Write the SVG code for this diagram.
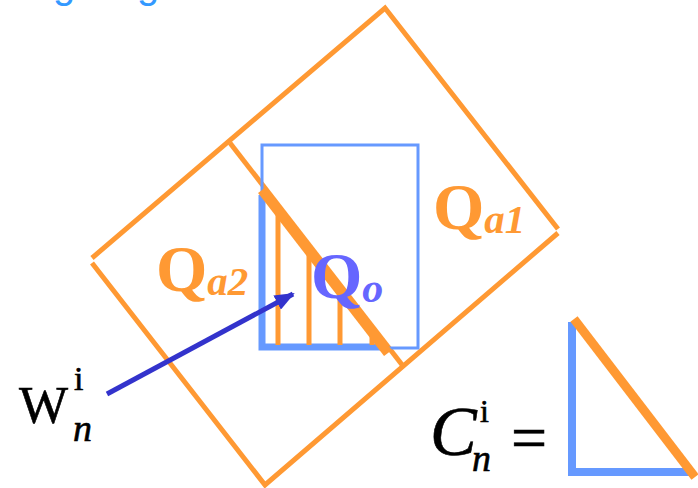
<svg xmlns="http://www.w3.org/2000/svg" width="698" height="488" viewBox="0 0 698 488">
<defs>
<style>
.or{stroke:#ff9933;fill:none;stroke-width:5}
.bl{stroke:#6699ff;fill:none}
</style>
<marker id="ah" markerUnits="userSpaceOnUse" markerWidth="20" markerHeight="16" refX="18" refY="8" orient="auto">
<path d="M0,0 L20,8 L0,16 Z" fill="#3333cc"/>
</marker>
</defs>
<rect width="698" height="488" fill="#ffffff"/>
<g id="title" font-family="'Liberation Sans', Arial, sans-serif" font-size="40" fill="#3399ff">
<text x="53" y="-2">g</text>
<text x="137" y="-2">g</text>
</g>
<g id="Qa1">
<path class="or" d="M92,258 L385,8 L558,229"/>
<path class="or" d="M558,233 L265,485 L92,263"/>
<text x="433" y="229" font-family="'Liberation Serif', 'Times New Roman', serif" font-weight="bold" font-size="66" fill="#ff9933">Q<tspan font-style="italic" font-size="41" dy="4">a1</tspan></text>
</g>
<g id="Qa2">
<line class="or" x1="230" y1="143" x2="403" y2="366"/>
<text x="156" y="291" font-family="'Liberation Serif', 'Times New Roman', serif" font-weight="bold" font-size="66" fill="#ff9933">Q<tspan font-style="italic" font-size="41" dy="4">a2</tspan></text>
</g>
<g id="Qo">
<rect class="bl" x="262" y="145" width="156" height="203" stroke-width="3"/>
<path class="bl" d="M262,195 L262,347 L384,347" stroke-width="7"/>
<g class="or" stroke-width="4">
<line x1="278" y1="208" x2="278" y2="345"/>
<line x1="309" y1="248" x2="309" y2="345"/>
<line x1="340" y1="288" x2="340" y2="345"/>
<line x1="372" y1="330" x2="372" y2="345"/>
</g>
<line x1="262" y1="190" x2="388" y2="353" stroke="#ff9933" stroke-width="10"/>
<text x="311" y="298" font-family="'Liberation Serif', 'Times New Roman', serif" font-weight="bold" font-size="66" fill="#6666ff">Q<tspan font-style="italic" font-size="42" dy="4">o</tspan></text>
</g>
<g id="connectors">
<line x1="107" y1="394" x2="293" y2="294" stroke="#3333cc" stroke-width="5" marker-end="url(#ah)"/>
</g>
<g id="w" font-family="'Liberation Serif', 'Times New Roman', serif" fill="#000" stroke="#000" stroke-width="0.6">
<text x="19" y="423" font-size="52">W</text>
<text x="74" y="390" font-size="34">i</text>
<text x="73" y="441" font-size="38" font-style="italic">n</text>
</g>
<g id="c" font-family="'Liberation Serif', 'Times New Roman', serif" fill="#000">
<text x="430" y="455" font-size="70" font-style="italic" stroke="#000" stroke-width="0.6">C</text>
<text x="480" y="422" font-size="32" stroke="#000" stroke-width="0.6">i</text>
<text x="472" y="471" font-size="38" font-style="italic" stroke="#000" stroke-width="0.6">n</text>
<text x="511" y="459" font-size="64" stroke="#000" stroke-width="0.6">=</text>
<path class="bl" d="M572,322 L572,472 L693,472" stroke-width="8"/>
<line x1="574" y1="319" x2="695" y2="477" stroke="#ff9933" stroke-width="9"/>
</g>
</svg>
